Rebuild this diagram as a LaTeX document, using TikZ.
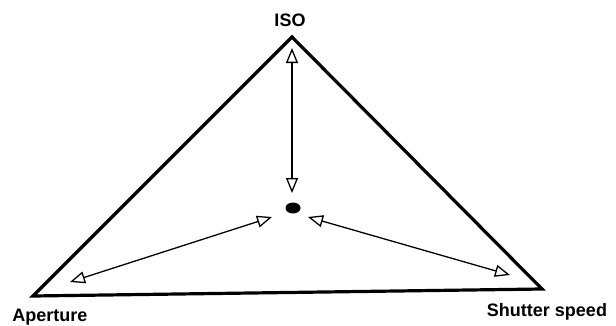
\documentclass[tikz,border=0pt]{standalone}
\usepackage{fontspec}
\setmainfont{Liberation Sans}
\usetikzlibrary{arrows.meta,positioning}
\tikzset{
  sideline/.style={line width=3.2pt,line join=miter,draw=black},
  pointer/.style={{Triangle[open,length=15pt,width=12pt,line width=1.3pt]}-{Triangle[open,length=15pt,width=12pt,line width=1.3pt]},line width=1.3pt,draw=black,shorten <=0pt,shorten >=0pt},
  cornerlabel/.style={inner sep=0pt,font=\fontsize{18}{20}\selectfont\bfseries},
  centerdot/.style={ellipse,fill=black,minimum width=15pt,minimum height=11pt,inner sep=0pt}
}
\usetikzlibrary{shapes.geometric}
\begin{document}
\begin{tikzpicture}[x=1pt,y=1pt]
\useasboundingbox (0,0) rectangle (616,325);

% Corners of the exposure triangle.
\coordinate (iso) at (292,288);
\coordinate (aperture) at (33,29);
\coordinate (shutter) at (542,36);
\draw[sideline] (iso) -- (shutter) -- (aperture) -- cycle;

% Labels.
\node[cornerlabel] (isolbl) at (290,305) {ISO};
\node[cornerlabel] (aplbl) at (50,8) {Aperture};
\node[cornerlabel] (shlbl) at (547,13) {Shutter speed};

% Balance point.
\node[centerdot] (dot) at (293,117) {};

% Arrow ends.
\coordinate (isotip) at (292,277);
\coordinate (dottop) at (292,132);
\coordinate (aptip) at (70,43);
\coordinate (dotleft) at (272,108);
\coordinate (dotright) at (308,108);
\coordinate (shtip) at (510,50);

\draw[pointer] (isotip) -- (dottop);
\draw[pointer] (aptip) -- (dotleft);
\draw[pointer] (dotright) -- (shtip);
\end{tikzpicture}
\end{document}
